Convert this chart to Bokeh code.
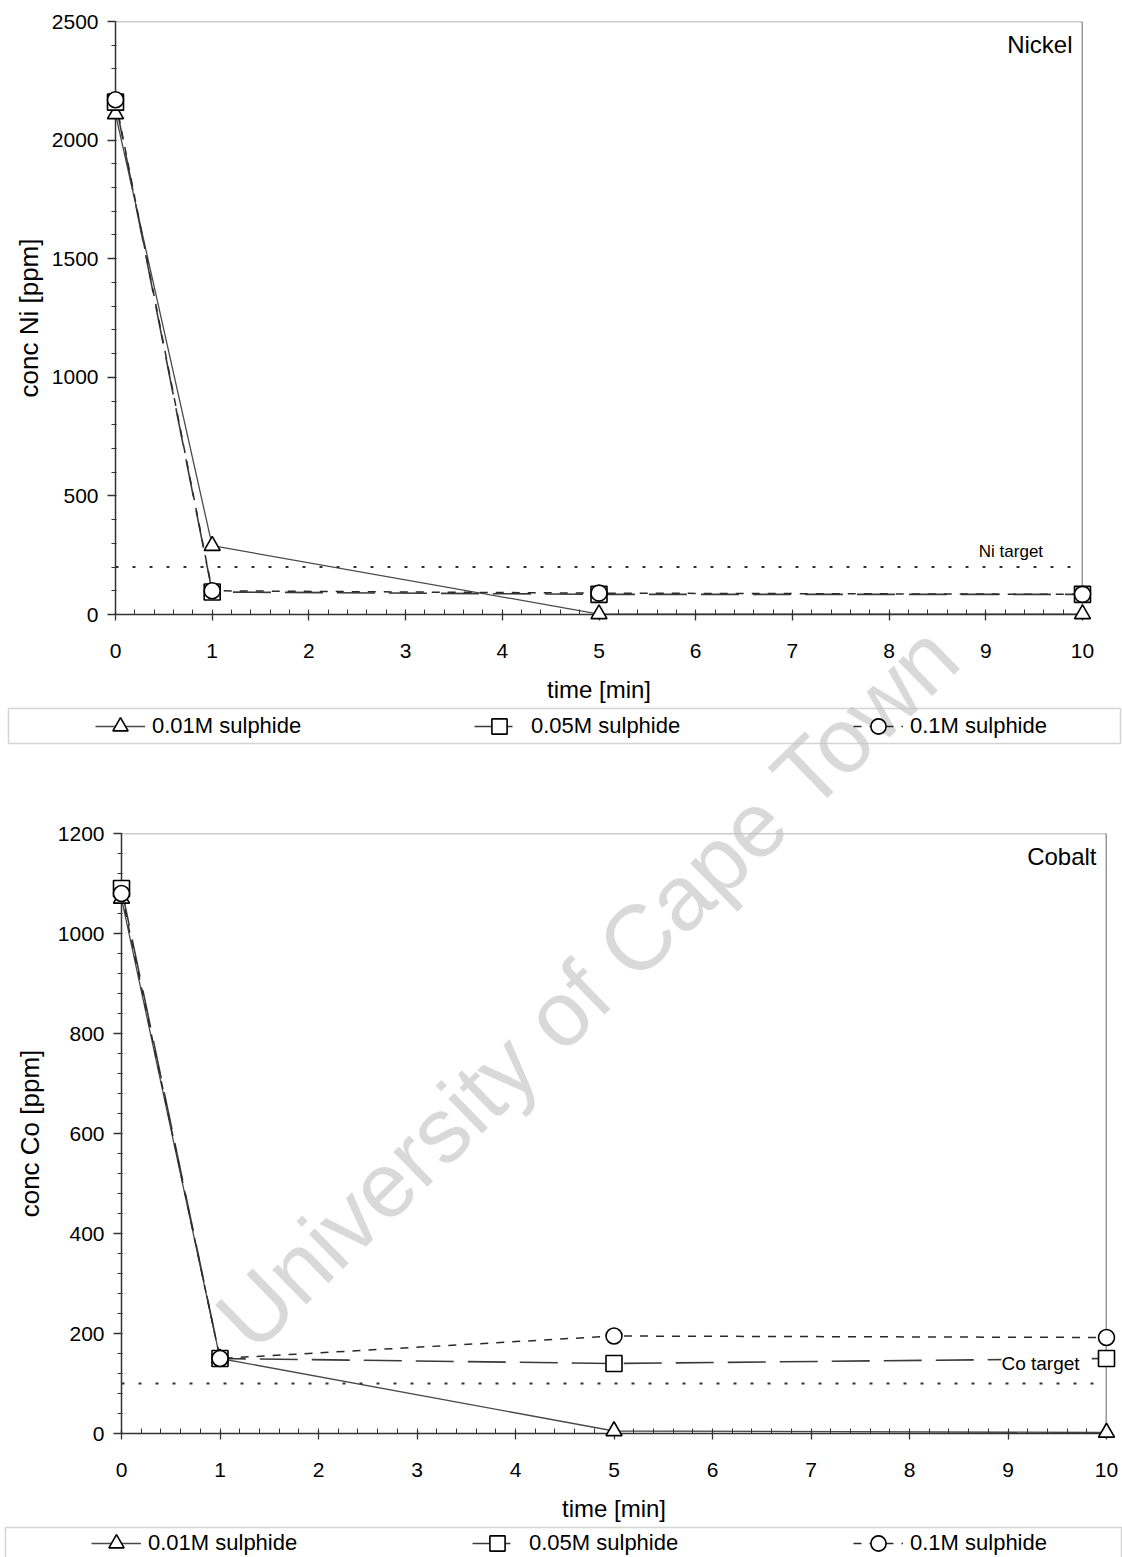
import math

import numpy as np
from bokeh.embed import file_html
from bokeh.models import (BoxAnnotation, ColumnDataSource, Label, Legend,
                          LegendItem, Range1d, SingleIntervalTicker, Span)
from bokeh.plotting import figure
from bokeh.resources import INLINE

FONT = "Liberation Sans"
PAGE_W, PAGE_H = 1122, 1557

# sampling times [min]
time_min = [0, 1, 5, 10]
series_labels = ["0.01M sulphide", "0.05M sulphide", "0.1M sulphide"]

# nickel concentration [ppm]
ni_001 = [2110, 290, 2, 2]
ni_005 = [2160, 95, 85, 85]
ni_01 = [2170, 100, 90, 85]
ni_target = 200

# cobalt concentration [ppm]
co_001 = [1070, 150, 5, 2]
co_005 = [1090, 150, 140, 150]
co_01 = [1080, 150, 195, 192]
co_target = 100

MARKERS = ["triangle", "square", "circle"]
DASHES = ["solid", "38 14", "8 8"]
LINE_COLORS = ["#4a4a4a", "#3a3a3a", "#2a2a2a"]
LINE_WIDTHS = [1.3, 1.6, 1.5]


def line_style(i):
    return dict(line_color=LINE_COLORS[i], line_width=LINE_WIDTHS[i],
                line_dash=DASHES[i])


def marker_style(i):
    return dict(marker=MARKERS[i], size=16, fill_color="white",
                line_color="black", line_width=1.6)


def style_axes(p, ytitle_standoff):
    xa, ya = p.xaxis[0], p.yaxis[0]
    for ax in (xa, ya):
        ax.axis_line_color = "#333333"
        ax.axis_line_width = 1.5
        ax.major_tick_line_color = "#333333"
        ax.major_tick_line_width = 1.3
        ax.minor_tick_line_color = "#333333"
        ax.minor_tick_line_width = 1.0
        ax.major_label_text_font = FONT
        ax.major_label_text_font_size = "21px"
        ax.major_label_text_color = "black"
        ax.axis_label_text_font = FONT
        ax.axis_label_text_font_style = "normal"
        ax.axis_label_text_color = "black"
    xa.major_tick_in, xa.major_tick_out = 3, 6
    xa.minor_tick_in, xa.minor_tick_out = 5, 0
    xa.major_label_standoff = 23
    xa.axis_label_standoff = 15
    xa.axis_label_text_font_size = "24px"
    ya.major_tick_in, ya.major_tick_out = 0, 8
    ya.minor_tick_in, ya.minor_tick_out = 1, 4
    ya.major_label_standoff = 9
    ya.axis_label_standoff = ytitle_standoff
    ya.axis_label_text_font_size = "26px"


def make_panel(series, target, y_max, y_step, ylabel, name, target_label,
               height, borders, ytitle_standoff):
    left, right, top, bottom = borders
    p = figure(width=PAGE_W, height=height,
               x_range=Range1d(0, 10), y_range=Range1d(0, y_max),
               output_backend="svg", toolbar_location=None,
               min_border_left=left, min_border_right=right,
               min_border_top=top, min_border_bottom=bottom,
               x_axis_label="time [min]", y_axis_label=ylabel)
    p.xgrid.grid_line_color = None
    p.ygrid.grid_line_color = None
    p.outline_line_color = None
    p.xaxis[0].ticker = SingleIntervalTicker(interval=1, num_minor_ticks=5)
    p.yaxis[0].ticker = SingleIntervalTicker(interval=y_step, num_minor_ticks=5)
    style_axes(p, ytitle_standoff)

    # frame edges: light top rule, dark right rule
    p.add_layout(Span(location=y_max, dimension="width",
                      line_color="#9a9a9a", line_width=1.5))
    p.add_layout(Span(location=10, dimension="height",
                      line_color="#333333", line_width=1.5))

    # target level
    p.add_layout(Span(location=target, dimension="width",
                      line_color="#333333", line_width=2,
                      line_dash="3 14"))

    for i, vals in enumerate(series):
        src = ColumnDataSource(dict(t=time_min, c=vals))
        p.line("t", "c", source=src, **line_style(i))
        p.scatter("t", "c", source=src, level="overlay", **marker_style(i))

    text, tx, ty_off, size, baseline, bg = target_label
    p.add_layout(Label(x=tx, y=target, y_offset=ty_off, text=text,
                       text_font=FONT, text_font_size=size,
                       text_color="black", text_align="center",
                       text_baseline=baseline, background_fill_color=bg))

    p.add_layout(Label(x=10, y=y_max, x_offset=-10, y_offset=-9,
                       text=name, text_font=FONT, text_font_size="24px",
                       text_color="black",
                       text_align="right", text_baseline="top"))
    return p


top = make_panel([ni_001, ni_005, ni_01], ni_target, 2500, 500,
                 "conc Ni [ppm]", "Nickel",
                 ("Ni target", 9.26, 6, "17px", "bottom", None),
                 760, (115, 40, 21, 146), 5)

bottom = make_panel([co_001, co_005, co_01], co_target, 1200, 200,
                    "conc Co [ppm]", "Cobalt",
                    ("Co target", 9.33, 20, "19px", "middle", "white"),
                    797, (121, 16, 73, 124), 10)

# transparent page-sized sheet on top: legends under each panel and the
# watermark, which run across both panels
sheet = figure(width=PAGE_W, height=PAGE_H,
               x_range=Range1d(0, PAGE_W), y_range=Range1d(PAGE_H, 0),
               x_axis_type=None, y_axis_type=None,
               min_border=0, output_backend="svg", toolbar_location=None,
               background_fill_alpha=0, border_fill_alpha=0,
               outline_line_color=None,
               styles={"position": "absolute", "top": "0px", "left": "0px",
                       "pointer-events": "none"})
sheet.xgrid.grid_line_color = None
sheet.ygrid.grid_line_color = None

# legend keys share the series styles (no visible data of their own)
blank = np.array([np.nan])
keys = []
for i, lab in enumerate(series_labels):
    r_line = sheet.line(x=blank, y=blank, **line_style(i))
    r_mark = sheet.scatter(x=blank, y=blank, **marker_style(i))
    keys.append(LegendItem(label=lab, renderers=[r_line, r_mark]))

for (lx, ly, gap), (l, r, t, b) in [((95, 812, 172), (8, 1120, 708, 743)),
                                    ((91, -5, 174), (5, 1121, 1527, 1562))]:
    sheet.add_layout(BoxAnnotation(left=l, right=r, top=t, bottom=b,
                                   fill_alpha=0, line_color="#707070",
                                   line_width=1.5))
    sheet.add_layout(Legend(items=keys, orientation="horizontal",
                            location=(lx, ly), padding=5, margin=0,
                            spacing=gap, glyph_width=50, glyph_height=38,
                            label_standoff=7, label_width=150,
                            label_height=25, label_text_font=FONT,
                            label_text_font_size="22px",
                            label_text_color="black",
                            border_line_color=None,
                            background_fill_alpha=0), "center")

sheet.add_layout(Label(x=587, y=986, text="University of Cape Town",
                       text_font=FONT, text_font_size="92px",
                       text_color="#c4c4c4", text_alpha=0.65,
                       angle=math.radians(44.2),
                       text_align="center", text_baseline="middle"))

with open("out.html", "w") as f:
    f.write(file_html([top, bottom, sheet], INLINE))
